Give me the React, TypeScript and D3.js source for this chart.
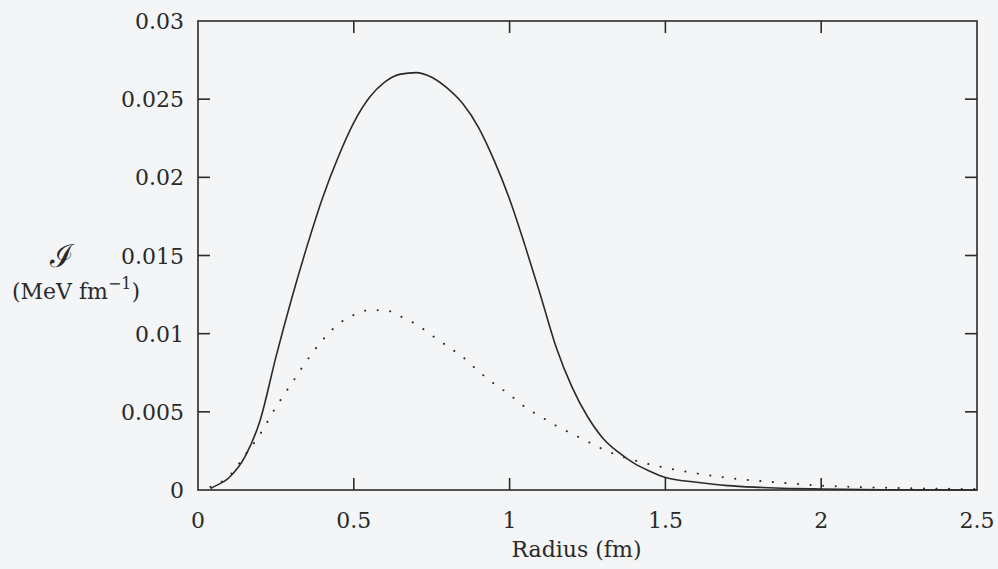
import * as d3 from "d3";
import { useEffect, useRef } from "react";

// radius values (fm) for the solid curve
const solidR = [0.04, 0.05, 0.1, 0.15, 0.2, 0.25, 0.3, 0.35, 0.4, 0.45, 0.5, 0.55, 0.6, 0.65, 0.7, 0.75, 0.8, 0.85, 0.9, 0.95, 1.0, 1.05, 1.1, 1.15, 1.2, 1.25, 1.3, 1.35, 1.4, 1.45, 1.5, 1.6, 1.7, 1.8, 1.9, 2.0, 2.2, 2.5];
const solidI = [0.0001, 0.0002, 0.0008, 0.0021, 0.0045, 0.0085, 0.0122, 0.0156, 0.0187, 0.0213, 0.0235, 0.0251, 0.0261, 0.0266, 0.0267, 0.0264, 0.0257, 0.0247, 0.0232, 0.0211, 0.0186, 0.0156, 0.0124, 0.0091, 0.0066, 0.0047, 0.0033, 0.0024, 0.0017, 0.0012, 0.0008, 0.0005, 0.00028, 0.00017, 0.0001, 0.00006, 0.00002, 0.0];

// dotted curve
const dottedR = [0.04, 0.1, 0.15, 0.2, 0.25, 0.3, 0.35, 0.4, 0.45, 0.5, 0.55, 0.6, 0.65, 0.7, 0.75, 0.8, 0.85, 0.9, 0.95, 1.0, 1.05, 1.1, 1.15, 1.2, 1.25, 1.3, 1.4, 1.5, 1.6, 1.7, 1.8, 1.9, 2.0, 2.1, 2.2, 2.3, 2.4, 2.5];
const dottedI = [0.0002, 0.0009, 0.0022, 0.0036, 0.0053, 0.0068, 0.0083, 0.0096, 0.0106, 0.0112, 0.0115, 0.0115, 0.0111, 0.0106, 0.0099, 0.0092, 0.0085, 0.0076, 0.0068, 0.0061, 0.0053, 0.0047, 0.0041, 0.0036, 0.0031, 0.0026, 0.0019, 0.00142, 0.00106, 0.00078, 0.00058, 0.00042, 0.00028, 0.0002, 0.00015, 0.00011, 0.00008, 0.00006];

const xTicks = [0, 0.5, 1, 1.5, 2, 2.5];
const xTickLabels = ["0", "0.5", "1", "1.5", "2", "2.5"];
const yTicks = [0, 0.005, 0.01, 0.015, 0.02, 0.025, 0.03];
const yTickLabels = ["0", "0.005", "0.01", "0.015", "0.02", "0.025", "0.03"];

const W = 998, H = 569;
const margin = { left: 198, right: 21, top: 21, bottom: 79 };
const FONT = "DejaVu Serif, serif";
const INK = "#2a2a2a";

const App = () => {
    const ref = useRef<SVGSVGElement>(null);

    useEffect(() => {
        const svg = d3.select(ref.current);
        svg.selectAll("*").remove();

        const x = d3.scaleLinear().domain([0, 2.5]).range([margin.left, W - margin.right]);
        const y = d3.scaleLinear().domain([0, 0.03]).range([H - margin.bottom, margin.top]);
        const tick = 12;

        svg.append("rect").attr("width", W).attr("height", H).attr("fill", "#f4f5f6");

        const solid = solidR.map((r, i) => [r, solidI[i]] as [number, number]);
        const dotted = dottedR.map((r, i) => [r, dottedI[i]] as [number, number]);

        const line = d3.line<[number, number]>()
            .x(d => x(d[0]))
            .y(d => y(d[1]))
            .curve(d3.curveMonotoneX);

        svg.append("path")
            .attr("d", line(dotted))
            .attr("fill", "none")
            .attr("stroke", INK)
            .attr("stroke-width", 2)
            .attr("stroke-linecap", "round")
            .attr("stroke-dasharray", "0.1 12.5");

        svg.append("path")
            .attr("d", line(solid))
            .attr("fill", "none")
            .attr("stroke", INK)
            .attr("stroke-width", 1.6);

        // ticks on all four sides, pointing inward
        const g = svg.append("g").attr("stroke", INK).attr("stroke-width", 1.6);
        xTicks.slice(1, -1).forEach(t => {
            g.append("line").attr("x1", x(t)).attr("x2", x(t)).attr("y1", y(0)).attr("y2", y(0) - tick);
            g.append("line").attr("x1", x(t)).attr("x2", x(t)).attr("y1", y(0.03)).attr("y2", y(0.03) + tick);
        });
        yTicks.slice(1, -1).forEach(t => {
            g.append("line").attr("x1", x(0)).attr("x2", x(0) + tick).attr("y1", y(t)).attr("y2", y(t));
            g.append("line").attr("x1", x(2.5)).attr("x2", x(2.5) - tick).attr("y1", y(t)).attr("y2", y(t));
        });

        svg.append("rect")
            .attr("x", x(0)).attr("y", y(0.03))
            .attr("width", x(2.5) - x(0)).attr("height", y(0) - y(0.03))
            .attr("fill", "none").attr("stroke", INK).attr("stroke-width", 1.6);

        const txt = svg.append("g").attr("font-family", FONT).attr("font-size", 22).attr("fill", INK);

        txt.selectAll(".xl").data(xTicks).enter().append("text")
            .attr("x", d => x(d)).attr("y", y(0) + 38)
            .attr("text-anchor", "middle")
            .text((d, i) => xTickLabels[i]);

        txt.selectAll(".yl").data(yTicks).enter().append("text")
            .attr("x", x(0) - 14).attr("y", d => y(d) + 8)
            .attr("text-anchor", "end")
            .text((d, i) => yTickLabels[i]);

        txt.append("text")
            .attr("x", (x(0) + x(2.5)) / 2 - 11).attr("y", H - 12)
            .attr("text-anchor", "middle")
            .text("Radius (fm)");

        txt.append("text")
            .attr("x", 62).attr("y", y(0.015) + 11)
            .attr("text-anchor", "middle")
            .attr("font-size", 32)
            .text("\u2110");

        const unit = txt.append("text").attr("x", 76).attr("y", y(0.015) + 43).attr("text-anchor", "middle");
        unit.append("tspan").text("(MeV fm");
        unit.append("tspan").attr("font-size", 16).attr("dy", -10).text("\u22121");
        unit.append("tspan").attr("dy", 10).text(")");
    }, []);

    return (
        <svg ref={ref} width={W} height={H} style={{ position: "absolute", left: 0, top: 0 }} />
    );
};

export default App;
